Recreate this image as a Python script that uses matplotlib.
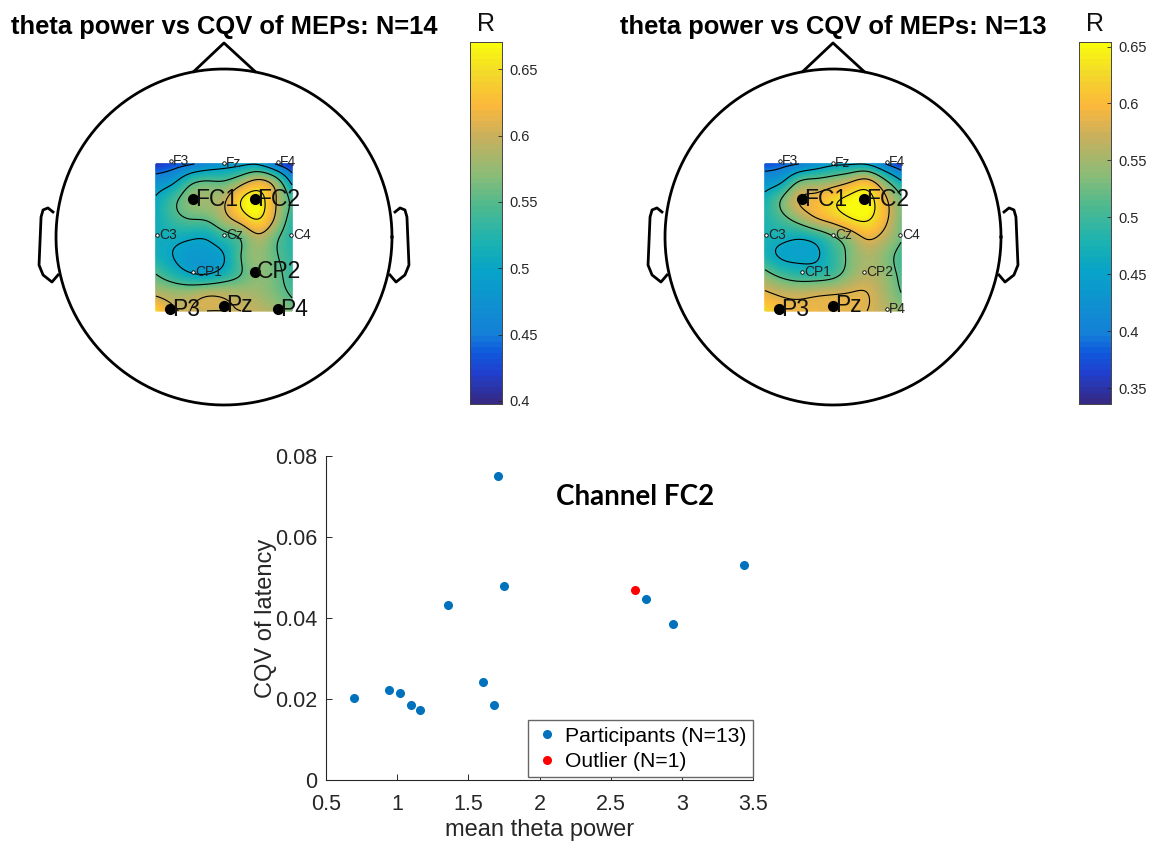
import numpy as np
import matplotlib
matplotlib.use("Agg")
import matplotlib.pyplot as plt
from matplotlib.colors import LinearSegmentedColormap

plt.rcParams['font.family'] = ['Liberation Sans', 'DejaVu Sans']

W, H = 1150, 843

# scatter data
part_x = [0.70, 0.94, 1.02, 1.10, 1.16, 1.36, 1.60, 1.68, 1.71, 1.75, 2.75, 2.94, 3.44]
part_y = [0.0202, 0.0221, 0.0215, 0.0185, 0.0173, 0.0432, 0.0243, 0.0185, 0.075, 0.048, 0.0447, 0.0385, 0.053]
out_x = [2.67]
out_y = [0.047]

# electrodes in head units (radius 1)
ch_names = ["F3", "Fz", "F4", "FC1", "FC2", "C3", "Cz", "C4", "CP1", "CP2", "P3", "Pz", "P4"]
ch_x = [-0.315, 0.0, 0.32, -0.185, 0.185, -0.40, 0.0, 0.40, -0.185, 0.185, -0.32, 0.0, 0.32]
ch_y = [0.455, 0.44, 0.445, 0.226, 0.226, 0.012, 0.012, 0.012, -0.208, -0.208, -0.43, -0.41, -0.43]
sig_left = ["FC1", "FC2", "CP2", "P3", "Pz", "P4"]
sig_right = ["FC1", "FC2", "P3", "Pz"]

# R values, top row first
r_left = [
    [.415, .43, .445, .465, .48, .49, .495, .45, .41],
    [.475, .495, .54, .555, .555, .585, .615, .58, .49],
    [.505, .54, .57, .58, .595, .65, .67, .605, .54],
    [.51, .535, .55, .555, .585, .62, .65, .595, .53],
    [.51, .51, .505, .505, .53, .555, .59, .56, .525],
    [.515, .50, .485, .485, .50, .55, .575, .555, .53],
    [.55, .525, .505, .50, .52, .55, .57, .56, .535],
    [.59, .58, .58, .59, .59, .585, .58, .565, .545],
    [.65, .605, .60, .60, .60, .60, .595, .585, .565],
]
r_right = [
    [.375, .385, .40, .425, .45, .455, .455, .405, .36],
    [.435, .46, .525, .54, .555, .58, .60, .54, .47],
    [.475, .525, .58, .595, .625, .65, .655, .595, .53],
    [.48, .505, .54, .575, .60, .63, .64, .595, .53],
    [.475, .47, .465, .48, .515, .55, .585, .565, .525],
    [.48, .455, .45, .455, .49, .53, .555, .54, .505],
    [.535, .505, .49, .49, .505, .54, .56, .545, .51],
    [.585, .57, .565, .57, .575, .58, .58, .555, .52],
    [.63, .60, .59, .59, .585, .585, .58, .565, .545],
]
lev_left = [.45, .50, .55, .60, .65]
lev_right = [.40, .46, .52, .58, .635]

cb_left = [0.40, 0.45, 0.50, 0.55, 0.60, 0.65]
cb_right = [0.35, 0.40, 0.45, 0.50, 0.55, 0.60, 0.65]

parula = LinearSegmentedColormap.from_list("parula", [
    (0.0, "#352a87"), (0.08, "#2040d0"), (0.14, "#0f5cdd"), (0.19, "#1580d8"), (0.37, "#08a5c8"),
    (0.45, "#1db3b0"), (0.55, "#50ba8e"), (0.63, "#88bd78"), (0.74, "#c8b05e"), (0.83, "#fdb93c"),
    (0.92, "#f3d92a"), (1.0, "#f9fb0e")], N=64)


def axpx(x0, y0, x1, y1):
    return fig.add_axes([x0 / W, 1 - y1 / H, (x1 - x0) / W, (y1 - y0) / H])


def spline_weights(n, m):
    # natural cubic spline from n evenly spaced knots to m samples, as a matrix
    A = np.zeros((n, n))
    B = np.zeros((n, n))
    A[0, 0] = A[-1, -1] = 1
    for i in range(1, n - 1):
        A[i, i - 1:i + 2] = [1, 4, 1]
        B[i, i - 1:i + 2] = [6, -12, 6]
    D2 = np.linalg.solve(A, B)
    s = np.linspace(0, n - 1, m)
    i = np.minimum(s.astype(int), n - 2)
    t = s - i
    out = np.zeros((m, n))
    row = np.arange(m)
    out[row, i] += 1 - t
    out[row, i + 1] += t
    out += ((((1 - t) ** 3 - (1 - t)) / 6)[:, None]) * D2[i] + (((t ** 3 - t) / 6)[:, None]) * D2[i + 1]
    return out


def smooth_map(vals, n=200):
    vals = np.array(vals)[::-1]
    w = spline_weights(9, n)
    return w @ vals @ w.T


def topo(cx, cy, vals, levels, vmin, vmax, sig, title):
    R = 168
    ax = axpx(cx - 1.2 * R, cy - 1.2 * R, cx + 1.2 * R, cy + 1.2 * R)
    ax.set_xlim(-1.2, 1.2)
    ax.set_ylim(-1.2, 1.2)
    ax.axis("off")

    # head, nose, ears
    t = np.linspace(0, 2 * np.pi, 300)
    ax.plot(np.cos(t), np.sin(t), color="k", lw=2.0)
    ax.plot([-0.18, 0.0, 0.185], [0.985, 1.155, 0.985], color="k", lw=2.0)
    ear_x = np.array([1.018, 1.048, 1.077, 1.089, 1.101, 1.077, 1.024, 0.988])
    ear_y = np.array([0.149, 0.173, 0.161, 0.119, -0.167, -0.226, -0.268, -0.226])
    ax.plot(ear_x, ear_y, color="k", lw=2.0)
    ax.plot(-ear_x, ear_y, color="k", lw=2.0)

    fz = smooth_map(vals)
    fx, fy = np.meshgrid(np.linspace(-0.405, 0.405, 200), np.linspace(-0.44, 0.435, 200))
    ax.pcolormesh(fx, fy, fz, cmap=parula, vmin=vmin, vmax=vmax, shading="gouraud", zorder=1)
    ax.contour(fx, fy, fz, levels=levels, colors="k", linewidths=0.8, zorder=2)

    for n, x, y in zip(ch_names, ch_x, ch_y):
        if n in sig:
            ax.plot(x, y, "o", color="k", ms=7, zorder=3)
            ax.text(x + 0.012, y, n, fontsize=16.5, va="center", ha="left", color="#111111", zorder=4)
        else:
            ax.plot(x, y, "o", mfc="white", mec="k", ms=2.5, mew=0.6, zorder=3)
            ax.text(x + 0.012, y, n, fontsize=10, va="center", ha="left", color="#222222", zorder=4)

    fig.text(cx / W, 1 - 27 / H, title, fontsize=18.4, fontweight="bold", ha="center", va="center")


def cbar(x0, y0, x1, y1, vmin, vmax, ticks):
    ax = axpx(x0, y0, x1, y1)
    ax.imshow(np.linspace(vmax, vmin, 64).reshape(-1, 1), aspect="auto", cmap=parula,
              vmin=vmin, vmax=vmax, extent=[0, 1, vmin, vmax], interpolation="nearest")
    ax.set_xticks([])
    ax.yaxis.tick_right()
    ax.set_yticks(ticks)
    ax.set_yticklabels(["%g" % v for v in ticks], fontsize=10.5, color="#262626")
    ax.tick_params(axis="y", direction="in", length=3, width=0.6, color="#262626", pad=5)
    for s in ax.spines.values():
        s.set_linewidth(0.7)
        s.set_color("#444444")
    fig.text((x0 + x1) / 2 / W, 1 - 24 / H, "R", fontsize=18, ha="center", va="center", color="#111111")


fig = plt.figure(figsize=(W / 100, H / 100), dpi=100)

topo(224, 237, r_left, lev_left, 0.3977, 0.6705, sig_left, "theta power vs CQV of MEPs: N=14")
topo(833, 237, r_right, lev_right, 0.336, 0.654, sig_right, "theta power vs CQV of MEPs: N=13")
cbar(470, 42, 502, 404, 0.3977, 0.6705, cb_left)
cbar(1079, 42, 1111, 404, 0.336, 0.654, cb_right)

# scatter
ax = axpx(326, 456, 753, 780)
ax.plot(part_x, part_y, "o", color="#0072bd", ms=5.5, label="Participants (N=13)")
ax.plot(out_x, out_y, "o", color="#ff0000", ms=5.5, label="Outlier (N=1)")
ax.set_xlim(0.5, 3.5)
ax.set_ylim(0, 0.08)
ax.set_xticks([0.5, 1, 1.5, 2, 2.5, 3, 3.5])
ax.set_xticklabels(["0.5", "1", "1.5", "2", "2.5", "3", "3.5"])
ax.set_yticks([0, 0.02, 0.04, 0.06, 0.08])
ax.set_yticklabels(["0", "0.02", "0.04", "0.06", "0.08"])
ax.tick_params(labelsize=15.5, direction="in", length=4, width=0.7, colors="#262626")
ax.tick_params(axis="x", pad=10)
ax.tick_params(axis="y", pad=6)
ax.spines["top"].set_visible(False)
ax.spines["right"].set_visible(False)
ax.spines["left"].set_color("#262626")
ax.spines["bottom"].set_color("#262626")
ax.set_xlabel("mean theta power", fontsize=17, color="#262626", labelpad=3)
ax.set_ylabel("CQV of latency", fontsize=17, color="#262626", labelpad=-1)
fig.text(635 / W, 1 - 497 / H, "Channel FC2", fontsize=20, fontweight="bold", family=["Lato", "DejaVu Sans"],
         ha="center", va="center")
leg = ax.legend(loc="lower right", bbox_to_anchor=(1.0, 0.008), fontsize=15.2, fancybox=False, framealpha=1,
                edgecolor="#666666", borderaxespad=0, handletextpad=0.3, labelspacing=0.3, borderpad=0.3,
                handlelength=1.15)
leg.get_frame().set_linewidth(1.0)

fig.savefig("out.png", dpi=100)
plt.close(fig)
